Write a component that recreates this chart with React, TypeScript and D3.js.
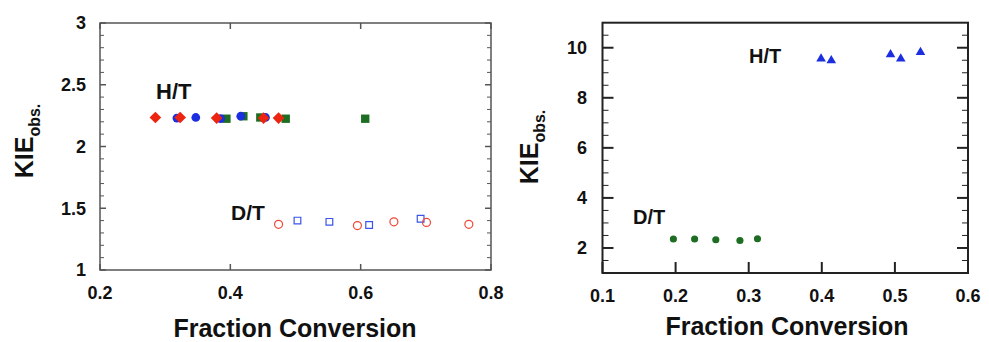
import React from 'react';
import * as d3 from 'd3';

// left panel: KIE vs conversion, several runs
const leftXTicks = [0.2, 0.4, 0.6, 0.8];
const leftYTicks = [1, 1.5, 2, 2.5, 3];
const htDiamondX = [0.285, 0.323, 0.379, 0.451, 0.474];
const htDiamondY = [2.235, 2.235, 2.23, 2.23, 2.23];
const htCircleX = [0.318, 0.347, 0.385, 0.416, 0.454];
const htCircleY = [2.23, 2.235, 2.225, 2.245, 2.235];
const htSquareX = [0.394, 0.42, 0.446, 0.485, 0.607];
const htSquareY = [2.225, 2.245, 2.235, 2.225, 2.225];
const dtCircleX = [0.474, 0.595, 0.651, 0.701, 0.766];
const dtCircleY = [1.37, 1.36, 1.39, 1.385, 1.37];
const dtSquareX = [0.503, 0.552, 0.613, 0.692];
const dtSquareY = [1.40, 1.39, 1.365, 1.415];

// right panel
const rightXTicks = [0.1, 0.2, 0.3, 0.4, 0.5, 0.6];
const rightYTicks = [2, 4, 6, 8, 10];
const htTriX = [0.399, 0.413, 0.494, 0.508, 0.535];
const htTriY = [9.56, 9.49, 9.73, 9.56, 9.82];
const dtDotX = [0.197, 0.226, 0.255, 0.288, 0.312];
const dtDotY = [2.36, 2.36, 2.33, 2.30, 2.37];

const font = '"Liberation Sans", Arial, sans-serif';
const ink = '#111';

function zip(xs, ys) {
  return xs.map((x, i) => ({ x: x, y: ys[i] }));
}

function Marks({ pts, x, y, type, size, fill, stroke, sw, rot }) {
  const sym = d3.symbol().type(type).size(size);
  return (
    <g>
      {pts.map((d, i) => (
        <path key={i} d={sym()} transform={'translate(' + x(d.x) + ',' + y(d.y) + ')' + (rot ? ' rotate(' + rot + ')' : '')}
          fill={fill} stroke={stroke || 'none'} strokeWidth={sw || 0} />
      ))}
    </g>
  );
}

function Frame({ x, y, xTicks, yTicks, yMinor, major, minor, axisColor, axisWidth, labelSize, xLabelY, yLabelX, topTicks }) {
  const [x0, x1] = x.range();
  const [y0, y1] = y.range();
  const fmt = d => String(d);
  return (
    <g>
      <rect x={x0} y={y1} width={x1 - x0} height={y0 - y1} fill="none" stroke={axisColor} strokeWidth={axisWidth} />
      {yMinor.map((v, i) => (
        <g key={'ym' + i} stroke={axisColor} strokeWidth={1}>
          <line x1={x0} x2={x0 + minor} y1={y(v)} y2={y(v)} />
          <line x1={x1} x2={x1 - minor} y1={y(v)} y2={y(v)} />
        </g>
      ))}
      {yTicks.map((v, i) => (
        <g key={'y' + i}>
          <line x1={x0} x2={x0 + major} y1={y(v)} y2={y(v)} stroke={axisColor} strokeWidth={axisWidth} />
          <line x1={x1} x2={x1 - major} y1={y(v)} y2={y(v)} stroke={axisColor} strokeWidth={axisWidth} />
          <text x={yLabelX} y={y(v)} dy="0.36em" textAnchor="end" fontFamily={font} fontWeight="bold"
            fontSize={labelSize} fill={ink}>{fmt(v)}</text>
        </g>
      ))}
      {xTicks.map((v, i) => (
        <g key={'x' + i}>
          <line x1={x(v)} x2={x(v)} y1={y0} y2={y0 - major} stroke={axisColor} strokeWidth={axisWidth} />
          {topTicks && <line x1={x(v)} x2={x(v)} y1={y1} y2={y1 + major} stroke={axisColor} strokeWidth={axisWidth} />}
          <text x={x(v)} y={xLabelY} textAnchor="middle" fontFamily={font} fontWeight="bold"
            fontSize={labelSize} fill={ink}>{fmt(v)}</text>
        </g>
      ))}
    </g>
  );
}

function AxisTitles({ cx, ty, kx, ky }) {
  return (
    <g fontFamily={font} fontWeight="bold" fill={ink}>
      <text x={cx} y={ty} textAnchor="middle" fontSize={25}>Fraction Conversion</text>
      <text transform={'translate(' + kx + ',' + ky + ') rotate(-90)'} textAnchor="middle" fontSize={25}>
        KIE<tspan fontSize={16} dy={7}>obs.</tspan>
      </text>
    </g>
  );
}

export default function App() {
  // left panel scales
  const xl = d3.scaleLinear().domain([0.2, 0.8]).range([100, 491]);
  const yl = d3.scaleLinear().domain([1, 3]).range([270, 23]);
  const ylMinor = d3.range(1, 3.001, 0.1).map(v => +v.toFixed(1)).filter(v => !leftYTicks.includes(v));

  // right panel scales
  const xr = d3.scaleLinear().domain([0.1, 0.6]).range([602.5, 968]);
  const yr = d3.scaleLinear().domain([1, 11]).range([273, 22.7]);
  const yrMinor = d3.range(1, 11.001, 0.5).filter(v => !rightYTicks.includes(v) && v > 1 && v < 11);

  return (
    <svg width={989} height={342} style={{ position: 'absolute', left: 0, top: 0, background: '#fff' }}>
      <Frame x={xl} y={yl} xTicks={leftXTicks} yTicks={leftYTicks} yMinor={ylMinor}
        major={6} minor={4} axisColor="#555" axisWidth={1.5} labelSize={18}
        xLabelY={299} yLabelX={86} topTicks={true} />
      <Marks pts={zip(htSquareX, htSquareY)} x={xl} y={yl} type={d3.symbolSquare} size={70} fill="#1d6e22" />
      <Marks pts={zip(htCircleX, htCircleY)} x={xl} y={yl} type={d3.symbolCircle} size={60} fill="#1c2fe0" />
      <Marks pts={zip(htDiamondX, htDiamondY)} x={xl} y={yl} type={d3.symbolSquare} size={68} fill="#ec2410" rot={45} />
      <Marks pts={zip(dtSquareX, dtSquareY)} x={xl} y={yl} type={d3.symbolSquare} size={45} fill="none" stroke="#3a55ea" sw={1.2} />
      <Marks pts={zip(dtCircleX, dtCircleY)} x={xl} y={yl} type={d3.symbolCircle} size={50} fill="none" stroke="#f04535" sw={1.2} />
      <g fontFamily={font} fontWeight="bold" fill={ink}>
        <text x={156} y={99} fontSize={22}>H/T</text>
        <text x={231} y={220} fontSize={21}>D/T</text>
      </g>
      <AxisTitles cx={295} ty={337} kx={33} ky={141} />

      <Frame x={xr} y={yr} xTicks={rightXTicks} yTicks={rightYTicks} yMinor={yrMinor}
        major={11} minor={6} axisColor="#222" axisWidth={2} labelSize={18}
        xLabelY={302} yLabelX={587} topTicks={false} />
      <Marks pts={zip(htTriX, htTriY)} x={xr} y={yr} type={d3.symbolTriangle} size={40} fill="#1c2fe0" />
      <Marks pts={zip(dtDotX, dtDotY)} x={xr} y={yr} type={d3.symbolCircle} size={40} fill="#1d6e22" />
      <g fontFamily={font} fontWeight="bold" fill={ink}>
        <text x={749} y={63} fontSize={20}>H/T</text>
        <text x={633} y={224} fontSize={20}>D/T</text>
      </g>
      <AxisTitles cx={787} ty={335} kx={538} ky={147} />
    </svg>
  );
}
